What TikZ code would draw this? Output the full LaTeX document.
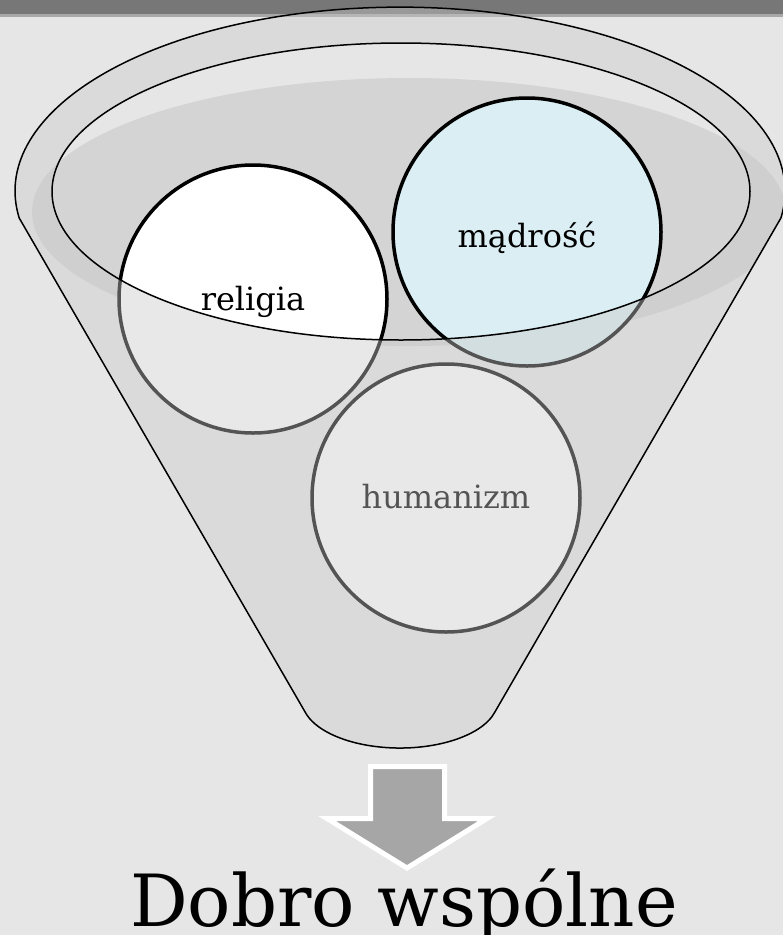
\documentclass[tikz,border=0pt]{standalone}
\usepackage{fontspec}
\setmainfont{DejaVu Serif}
\definecolor{bgc}{HTML}{E6E6E6}
\definecolor{barc}{HTML}{777777}
\definecolor{barline}{HTML}{A8A8A8}
\definecolor{shadowc}{HTML}{D4D4D4}
\definecolor{ovlc}{HTML}{CACACA}
\definecolor{bluec}{HTML}{DAEEF3}
\definecolor{arrowc}{HTML}{A6A6A6}
\tikzset{
  funnelpath/.style={insert path={(19.2,218) arc[start angle=171.6, end angle=368.4, x radius=385, y radius=184] -- (495,711.8) arc[start angle=14.2, end angle=165.8, x radius=98, y radius=48] -- cycle}},
  rimpath/.style={insert path={(401,191.5) ellipse [x radius=349, y radius=148.5]}},
  circ/.style={circle, draw=black, line width=3.5pt, minimum size=268pt, inner sep=0pt, font=\fontsize{32}{38}\selectfont},
  outline/.style={draw=black, line width=1.5pt},
}
\begin{document}
\begin{tikzpicture}[x=1pt,y=-1pt]
\useasboundingbox (0,0) rectangle (783,935);
\fill[bgc] (0,0) rectangle (783,935);
\fill[barc] (0,0) rectangle (783,14);
\fill[barline] (0,14) rectangle (783,17);
\begin{scope}
  \clip[funnelpath];
  \fill[shadowc] (409,212) ellipse [x radius=377, y radius=134];
\end{scope}
\node[circ, fill=white] (religia) at (253,299) {\smash{\raisebox{-11pt}{religia}}};
\node[circ, fill=bluec] (madrosc) at (527,232) {\smash{\raisebox{-15pt}{mądrość}}};
\node[circ, fill=white] (humanizm) at (446,498) {\smash{\raisebox{-10pt}{humanizm}}};
\fill[ovlc, fill opacity=0.42, even odd rule, funnelpath, rimpath];
\path[outline, funnelpath];
\path[outline, rimpath];
\draw[line width=5pt, white, fill=arrowc, miter limit=10]
  (370.5,766.5) -- (444.5,766.5) -- (444.5,818.5) -- (487,818.5) -- (407,868) -- (327,818.5) -- (370.5,818.5) -- cycle;
\node[font=\fontsize{72}{80}\selectfont, anchor=base, inner sep=0pt] (dobro) at (404,926) {Dobro wspólne};
\end{tikzpicture}
\end{document}
